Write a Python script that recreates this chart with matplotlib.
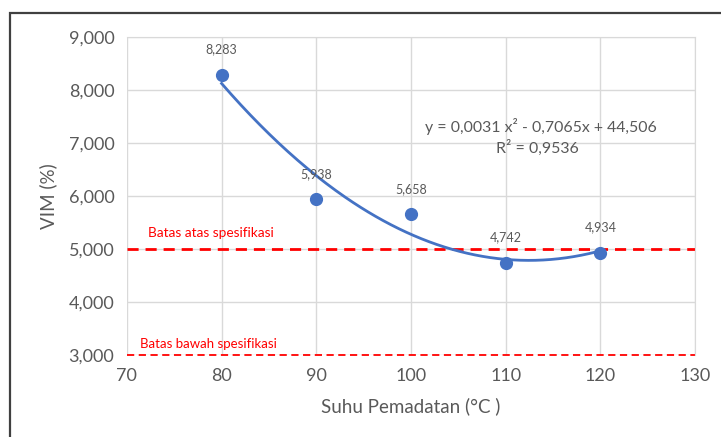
import numpy as np
import matplotlib.pyplot as plt
from matplotlib.patches import Rectangle
from matplotlib.ticker import FuncFormatter

plt.rcParams['font.family'] = ['Lato', 'DejaVu Sans']

suhu = [80, 90, 100, 110, 120]
vim = [8.283, 5.938, 5.658, 4.742, 4.934]
batas_atas = 5.0
batas_bawah = 3.0

blue = '#4472C4'
grey = '#595959'

fig = plt.figure(figsize=(7.21, 4.37), dpi=100)
ax = fig.add_axes([0.176, 0.1876, 0.788, 0.7277])

# outer chart border (only top/left visible in the crop)
fig.patches.append(Rectangle((10 / 721, -0.1), 1.2, 1 - 13 / 437 + 0.1,
                             transform=fig.transFigure, fill=False,
                             edgecolor='#404040', linewidth=1.6))

ax.grid(True, color='#D9D9D9', linewidth=1)
ax.set_axisbelow(True)
for s in ax.spines.values():
    s.set_visible(False)
ax.spines['top'].set_visible(True)
ax.spines['right'].set_visible(True)
ax.spines['top'].set_color('#D9D9D9')
ax.spines['right'].set_color('#D9D9D9')

ax.set_xlim(70, 130)
ax.set_ylim(3, 9)
ax.set_xticks(range(70, 131, 10))
ax.set_yticks(np.arange(3, 9.1, 1))
ax.yaxis.set_major_formatter(FuncFormatter(lambda v, p: f"{v:.3f}".replace('.', ',')))
ax.tick_params(length=0, labelsize=13, labelcolor=grey, pad=9)

# polynomial trendline
coef = np.polyfit(suhu, vim, 2)
xs = np.linspace(80, 120, 200)
ax.plot(xs, np.polyval(coef, xs), color=blue, linewidth=2, zorder=3)
ax.plot(suhu, vim, 'o', color=blue, markersize=8.5, zorder=4)

for x, y in zip(suhu, vim):
    ax.annotate(f"{y:.3f}".replace('.', ','), (x, y), xytext=(0, 14),
                textcoords='offset points', ha='center', va='bottom',
                fontsize=9, color=grey)

# specification limits
ax.axhline(batas_atas, color='#FF0000', linestyle=(0, (4, 2.5)), linewidth=2, zorder=2)
ax.axhline(batas_bawah, color='#FF0000', linestyle=(0, (4, 2.5)), linewidth=1.3,
           zorder=2, clip_on=False)
ax.text(72.2, 5.3, 'Batas atas spesifikasi', color='#FF0000', fontsize=9.8, va='center')
ax.text(71.4, 3.2, 'Batas bawah spesifikasi', color='#FF0000', fontsize=9.5, va='center')

ax.text(113.7, 7.32, 'y = 0,0031 x² - 0,7065x + 44,506', ha='center', va='center',
        fontsize=11.4, color=grey)
ax.text(113.4, 6.9, 'R² = 0,9536', ha='center', va='center',
        fontsize=11.4, color=grey)

ax.set_xlabel('Suhu Pemadatan (°C )', fontsize=13.5, color=grey, labelpad=10)
ax.set_ylabel('VIM (%)', fontsize=13.5, color=grey, labelpad=8)

fig.savefig('out.png', dpi=100)
